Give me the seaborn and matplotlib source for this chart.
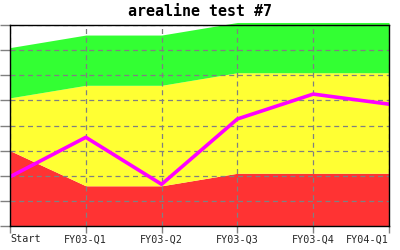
import matplotlib
matplotlib.use("Agg")
import matplotlib.pyplot as plt
import seaborn as sns
import pandas as pd
import numpy as np

categories = ["Start", "FY03-Q1", "FY03-Q2", "FY03-Q3", "FY03-Q4", "FY04-Q1"]
red_vals = [30, 16, 16, 21, 21, 21]
yellow_vals = [21, 40, 40, 40, 40, 40]
green_vals = [20, 20, 20, 20, 20, 20]
line_vals = [19.6, 35.3, 16.6, 42.6, 52.5, 48.5]

sns.set_style("white")
plt.rcParams['font.family'] = ['DejaVu Sans Mono', 'DejaVu Sans']

fig = plt.figure(figsize=(4, 2.5), dpi=100)
ax = fig.add_axes([0.025, 0.096, 0.9475, 0.804])

x = np.arange(len(categories))
red = np.array(red_vals, dtype=float)
yel = red + np.array(yellow_vals, dtype=float)
grn = yel + np.array(green_vals, dtype=float)

ax.fill_between(x, 0, red, color="#FF3333", lw=0, zorder=1)
ax.fill_between(x, red, yel, color="#FFFF33", lw=0, zorder=1)
ax.fill_between(x, yel, grn, color="#33FF33", lw=0, zorder=1, clip_on=False)

df = pd.DataFrame({"x": x, "v": line_vals})
sns.lineplot(data=df, x="x", y="v", ax=ax, color="#FF00FF", lw=2.6, zorder=4)

ax.set_xlim(0, 5)
ax.set_ylim(0, 80)
ax.set_xticks(x)
ax.set_xticklabels(categories, fontsize=7.3)
labels = ax.get_xticklabels()
labels[0].set_ha("left")
labels[-1].set_ha("right")
ax.set_yticks(np.arange(0, 81, 10))
ax.set_yticklabels([])
ax.set_xlabel("")
ax.set_ylabel("")
ax.set_axisbelow(False)
ax.grid(True, color="#808080", ls=(0, (4, 3)), lw=0.9, zorder=3)
ax.tick_params(axis="y", length=7, color="#808080", width=1, left=True)
ax.tick_params(axis="x", length=5, color="#808080", width=1, bottom=True, pad=1.0)
for s in ax.spines.values():
    s.set_visible(True)
    s.set_color("black")
    s.set_linewidth(1.0)
    s.set_zorder(5)

fig.suptitle("arealine test #7", x=0.5, y=0.985, fontsize=10.8, fontweight="bold",
             color="black", family=["DejaVu Sans Mono", "DejaVu Sans"])

fig.savefig("out.png", dpi=100, facecolor="white")
